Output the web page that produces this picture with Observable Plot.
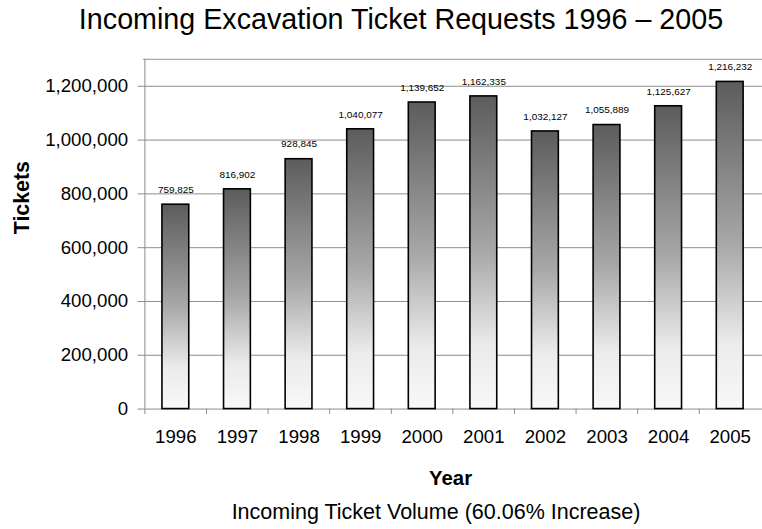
<!DOCTYPE html>
<html><head><meta charset="utf-8">
<script src="https://cdn.jsdelivr.net/npm/d3@7"></script>
<script src="https://cdn.jsdelivr.net/npm/@observablehq/plot@0.6"></script>
<style>
html,body{margin:0;padding:0;background:#fff;overflow:hidden;width:762px;height:529px;}
body{font-family:"Liberation Sans",Arial,sans-serif;color:#000;}
#title{height:40px;line-height:39px;font-size:28.7px;text-align:center;padding-left:40px;white-space:nowrap;}
#chart{height:455px;width:762px;overflow:hidden;}
#chart svg{display:block;}
#caption{height:34px;line-height:35px;font-size:21.5px;text-align:center;padding-left:110px;white-space:nowrap;}
</style></head><body>
<div id="title">Incoming Excavation Ticket Requests 1996 – 2005</div>
<div id="chart"></div>
<div id="caption">Incoming Ticket Volume (60.06% Increase)</div>
<script>
const years = ["1996", "1997", "1998", "1999", "2000", "2001", "2002", "2003", "2004", "2005"];
const tickets = [759825, 816902, 928845, 1040077, 1139652, 1162335, 1032127, 1055889, 1125627, 1216232];
const yTicks = [0, 200000, 400000, 600000, 800000, 1000000, 1200000];
const yDomain = [0, 1300000];
const yLabel = "Tickets";
const xLabel = "Year";

const data = years.map((year, i) => ({year, value: tickets[i]}));
const W = 767, H = 455, ML = 144, MR = 0, MT = 19, MB = 84;
const step = (W - ML - MR) / years.length;
const frameH = H - MT - MB;
const pad = 0.567;
const fmt = d3.format(",d");
const gray = "#8c8c8c";

const chart = Plot.plot({
  width: W, height: H,
  marginLeft: ML, marginRight: MR, marginTop: MT, marginBottom: MB,
  style: {fontFamily: "'Liberation Sans', Arial, sans-serif", fontSize: "18.8px", color: "#000", background: "transparent"},
  x: {domain: years, paddingInner: pad, paddingOuter: pad / 2, tickSize: 0, tickPadding: 21, label: null},
  y: {domain: yDomain, ticks: yTicks, tickFormat: fmt, tickSize: 5.5, tickPadding: 10, label: null},
  marks: [
    Plot.ruleY(yTicks.filter(d => d > 0), {stroke: gray, strokeWidth: 1}),
    Plot.ruleY([yDomain[1]], {stroke: "#a8a8a8", strokeWidth: 1.5}),
    Plot.ruleX([years[0]], {dx: -step / 2, stroke: gray}),
    Plot.ruleX(years, {dx: -step / 2, insetTop: frameH, insetBottom: -5.5, stroke: gray}),
    Plot.ruleY([0], {stroke: gray}),
    Plot.barY(data, {x: "year", y: "value", fill: "url(#barGrad)", stroke: "#000", strokeWidth: 1.6}),
    Plot.text(data, {x: "year", y: "value", text: d => fmt(d.value), dy: -15, fontSize: 10}),
    Plot.text([yLabel], {text: d => d, frameAnchor: "left", rotate: -90, lineAnchor: "bottom", dx: 28.3 - ML, fontSize: 21.5, fontWeight: "bold"}),
    Plot.text([xLabel], {text: d => d, frameAnchor: "bottom", lineAnchor: "bottom", dx: -2.5, dy: 76, fontSize: 20.5, fontWeight: "bold"})
  ]
});

const svgEl = chart.tagName.toLowerCase() === "svg" ? chart : chart.querySelector("svg");
const svg = d3.select(svgEl);
const grad = svg.insert("defs", ":first-child").append("linearGradient")
  .attr("id", "barGrad").attr("x1", 0).attr("y1", 0).attr("x2", 0).attr("y2", 1);
[[0, "#5c5c5c"], [0.5, "#a8a8a8"], [0.8, "#ebebeb"], [1, "#f8f8f8"]].forEach(([o, c]) =>
  grad.append("stop").attr("offset", o).attr("stop-color", c));
svg.selectAll('g[aria-label="y-axis"] line, g[aria-label="y-axis"] path, g[aria-label="y-axis tick"] path')
  .attr("stroke", gray);
document.getElementById("chart").appendChild(chart);
</script>
</body></html>
